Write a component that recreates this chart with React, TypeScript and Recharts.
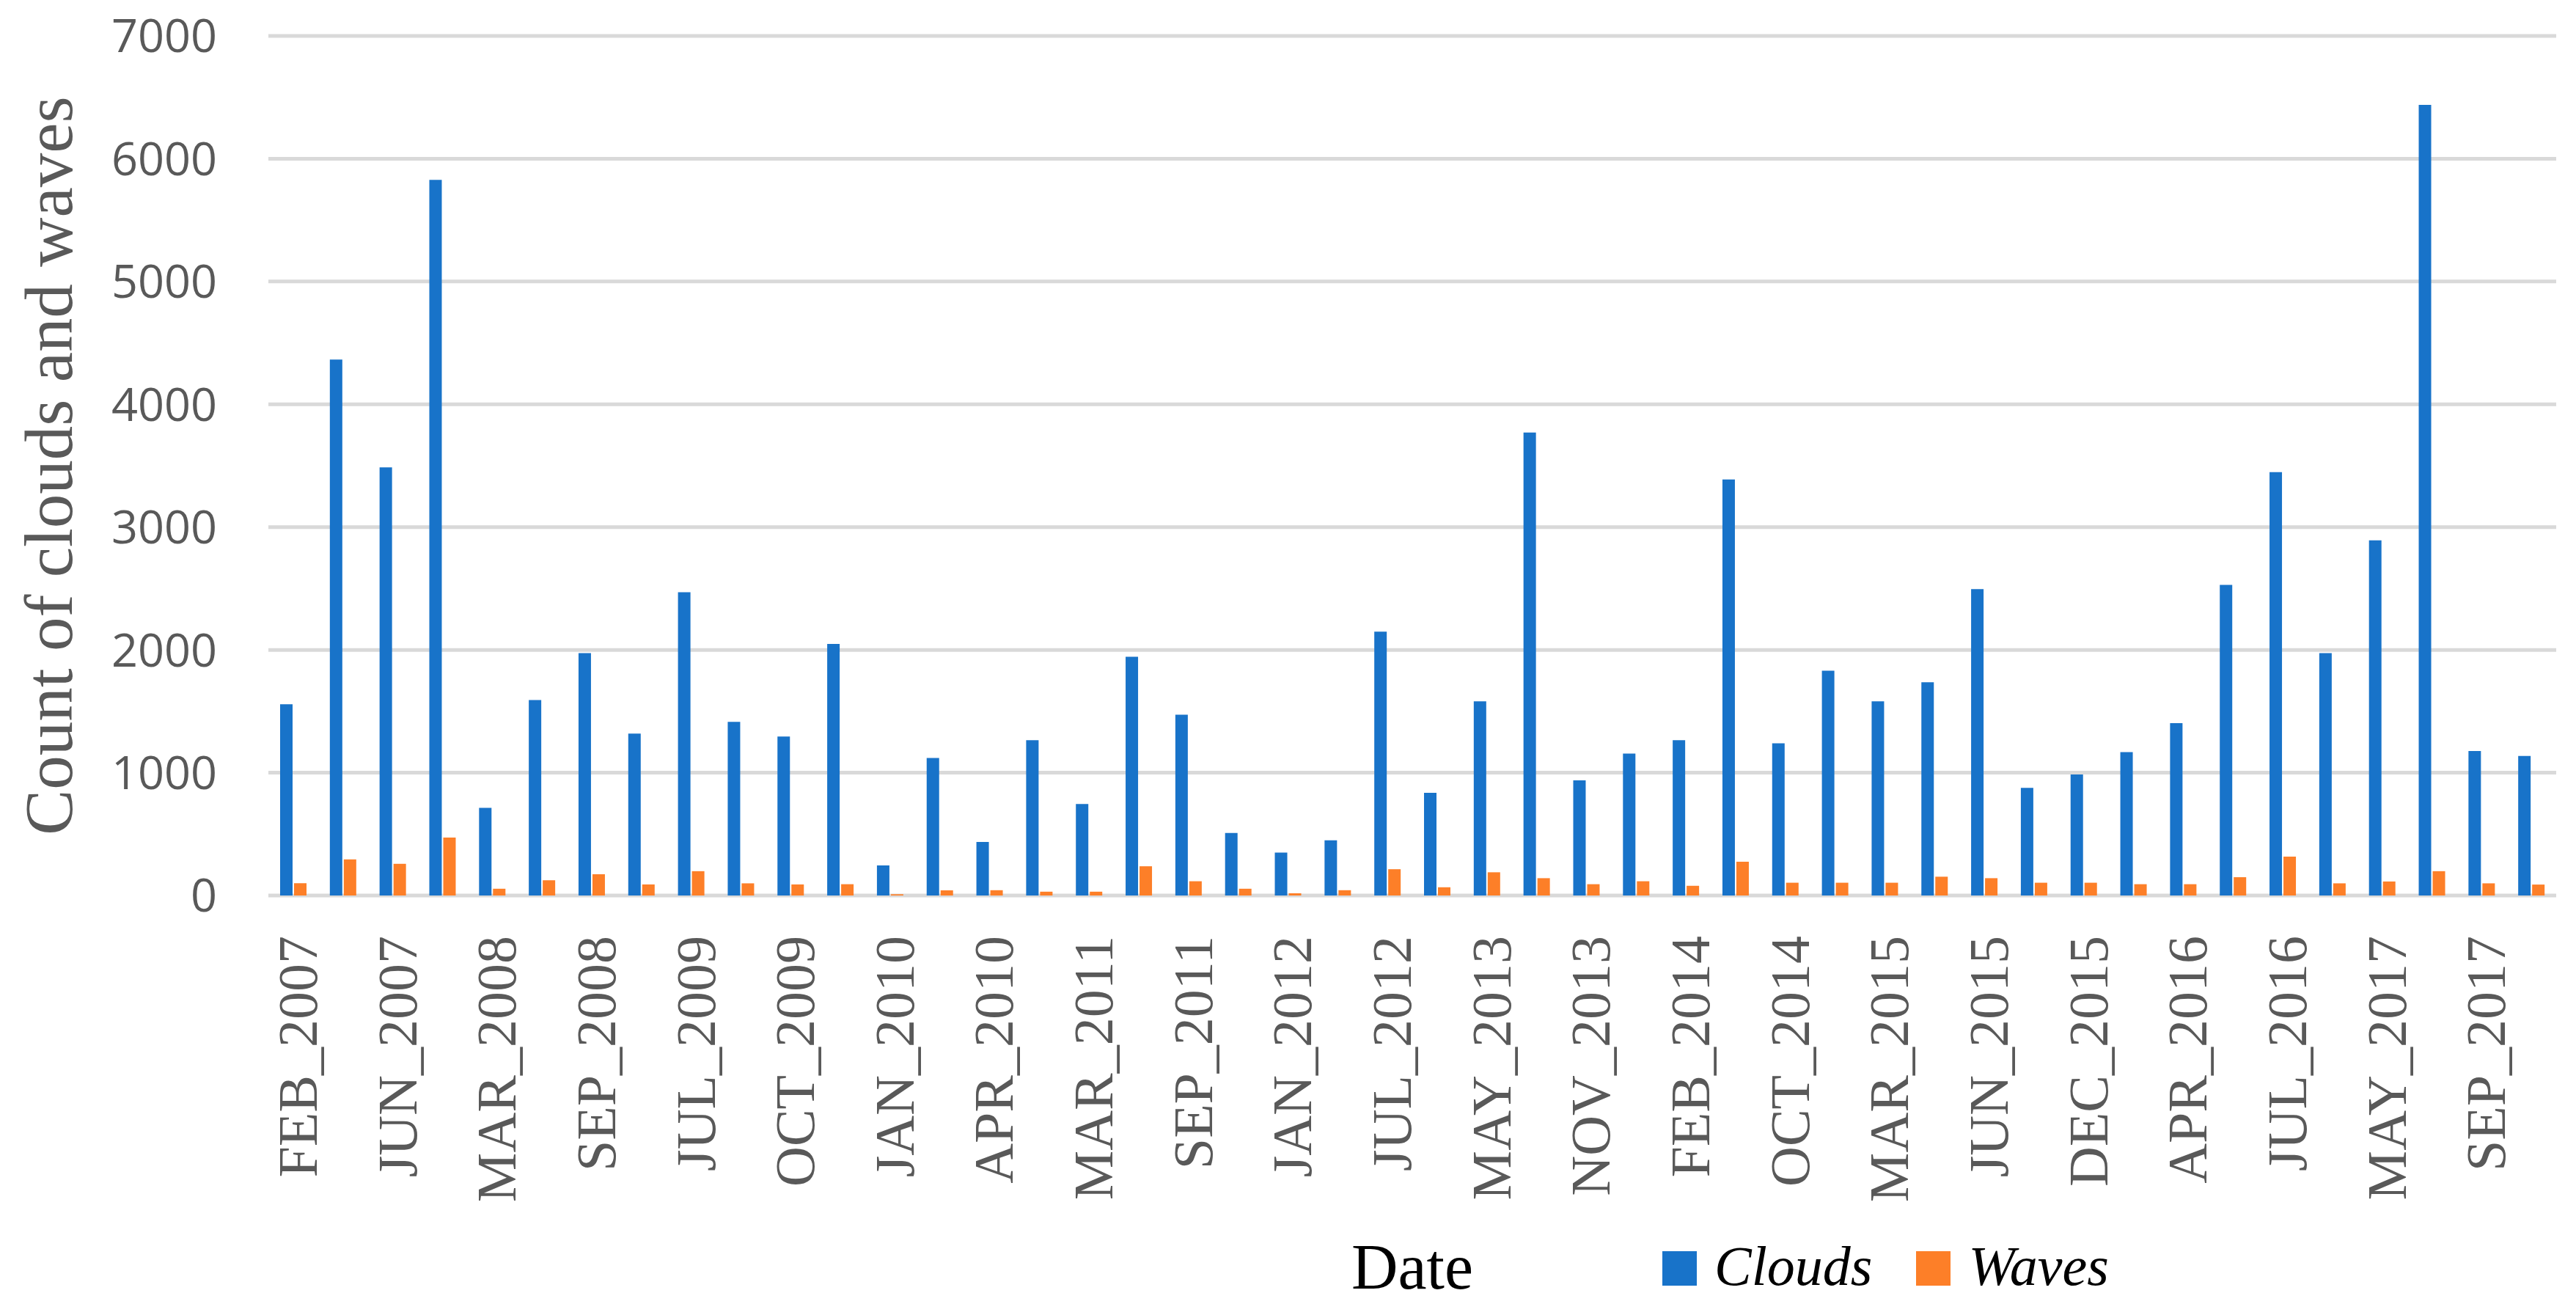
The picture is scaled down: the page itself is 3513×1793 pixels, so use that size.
import React from "react";
import { BarChart, Bar, XAxis, YAxis, CartesianGrid, Legend } from "recharts";

// acquisition dates (only every second one is labelled in the figure)
const dates = [
  "FEB_2007", "APR_2007", "JUN_2007", "OCT_2007", "MAR_2008", "MAY_2008",
  "SEP_2008", "MAR_2009", "JUL_2009", "AUG_2009", "OCT_2009", "DEC_2009",
  "JAN_2010", "MAR_2010", "APR_2010", "JAN_2011", "MAR_2011", "JUN_2011",
  "SEP_2011", "NOV_2011", "JAN_2012", "APR_2012", "JUL_2012", "FEB_2013",
  "MAY_2013", "AUG_2013", "NOV_2013", "DEC_2013", "FEB_2014", "JUN_2014",
  "OCT_2014", "JAN_2015", "MAR_2015", "APR_2015", "JUN_2015", "SEP_2015",
  "DEC_2015", "FEB_2016", "APR_2016", "MAY_2016", "JUL_2016", "FEB_2017",
  "MAY_2017", "JUL_2017", "SEP_2017", "NOV_2017",
];

const clouds = [
  1557, 4365, 3487, 5828, 714, 1592, 1974, 1319, 2470, 1414, 1295, 2049,
  245, 1120, 436, 1265, 745, 1944, 1473, 509, 350, 449, 2148, 836,
  1582, 3770, 937, 1156, 1265, 3388, 1240, 1830, 1582, 1736, 2495, 876,
  986, 1167, 1404, 2530, 3447, 1974, 2892, 6438, 1176, 1136,
];

const waves = [
  100, 294, 258, 472, 55, 124, 173, 90, 198, 99, 90, 92,
  10, 42, 43, 31, 31, 238, 116, 55, 18, 43, 214, 67,
  189, 141, 92, 116, 79, 275, 104, 104, 104, 153, 141, 104,
  104, 92, 92, 149, 317, 99, 114, 198, 99, 89,
];

const yTicks = [0, 1000, 2000, 3000, 4000, 5000, 6000, 7000];

const series = [
  { key: "clouds", name: "Clouds", color: "#1873c9" },
  { key: "waves", name: "Waves", color: "#fd7f28" },
];

const chartData = dates.map((date, i) => ({
  date,
  clouds: clouds[i],
  waves: waves[i],
}));

const serif = '"Liberation Serif", "Times New Roman", serif';

// rotated date labels, reading bottom to top
const DateTick = (props: any) => {
  const { x, y, payload } = props;
  return (
    <text
      x={x}
      y={y}
      dy={32}
      transform={`rotate(-90, ${x}, ${y})`}
      textAnchor="end"
      fill="#595959"
      fontFamily={serif}
      fontSize={76}
    >
      {payload.value}
    </text>
  );
};

const renderLegend = () => (
  <div style={{ display: "flex", alignItems: "flex-start" }}>
    {series.map((s, i) => (
      <div
        key={s.key}
        style={{
          display: "flex",
          alignItems: "flex-start",
          marginRight: i === 0 ? 60 : 0,
        }}
      >
        <span
          style={{
            display: "inline-block",
            width: 47,
            height: 47,
            marginTop: 18,
            marginRight: 24,
            background: s.color,
          }}
        />
        <span
          style={{
            fontFamily: serif,
            fontStyle: "italic",
            fontSize: 76,
            lineHeight: 1,
            color: "#000",
          }}
        >
          {s.name}
        </span>
      </div>
    ))}
  </div>
);

const App: React.FC = () => {
  return (
    <div style={{ position: "absolute", left: 0, top: 0, background: "#fff" }}>
      <BarChart
        width={3513}
        height={1793}
        data={chartData}
        margin={{ top: 49, right: 27, left: 0, bottom: 0 }}
        barSize={17}
        barGap={2}
      >
        <CartesianGrid vertical={false} stroke="#d9d9d9" strokeWidth={5} />
        <XAxis
          dataKey="date"
          interval={1}
          height={572}
          axisLine={false}
          tickLine={false}
          tickSize={0}
          tickMargin={55}
          tick={<DateTick />}
          label={{
            value: "Date",
            position: "insideBottom",
            offset: 36,
            fill: "#000",
            fontSize: 88,
            fontFamily: serif,
          }}
        />
        <YAxis
          width={366}
          domain={[0, 7000]}
          ticks={yTicks}
          axisLine={false}
          tickLine={false}
          tickSize={0}
          tickMargin={70}
          tick={{ fill: "#595959", fontSize: 63, fontFamily: '"Open Sans", sans-serif' }}
          label={{
            value: "Count of clouds and waves",
            angle: -90,
            position: "insideLeft",
            offset: 65,
            fill: "#595959",
            fontSize: 93,
            fontFamily: serif,
            style: { textAnchor: "middle" },
          }}
        />
        <Legend
          layout="horizontal"
          verticalAlign="middle"
          align="center"
          content={renderLegend}
          wrapperStyle={{ position: "absolute", left: 2267, top: 1688, width: "auto" }}
        />
        {series.map((s) => (
          <Bar
            key={s.key}
            dataKey={s.key}
            name={s.name}
            fill={s.color}
            isAnimationActive={false}
          />
        ))}
      </BarChart>
    </div>
  );
};

export default App;
